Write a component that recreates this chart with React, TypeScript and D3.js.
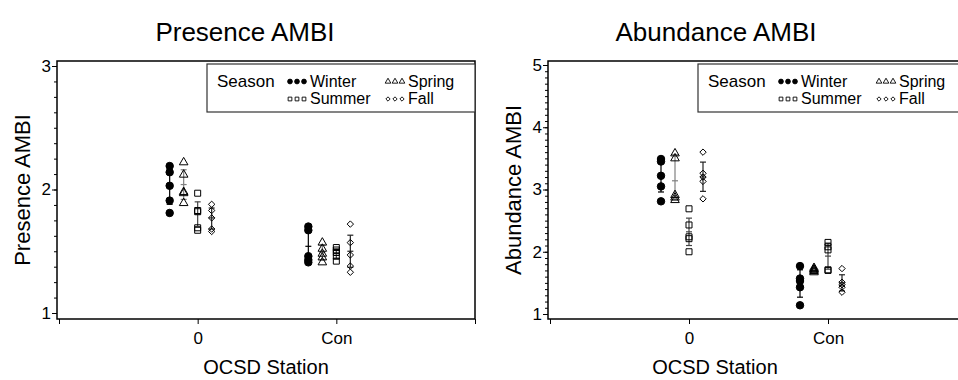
import { useEffect, useRef } from 'react';
import * as d3 from 'd3';

const seasons = ['Winter', 'Spring', 'Summer', 'Fall'];
const stations = ['0', 'Con'];

// Presence AMBI - single samples, station 0
const presence0Winter = [2.19, 2.14, 2.03, 1.91, 1.81];
const presence0Spring = [2.22, 2.12, 1.98, 1.97, 1.89];
const presence0Summer = [1.97, 1.83, 1.82, 1.69, 1.67];
const presence0Fall = [1.88, 1.83, 1.77, 1.68, 1.66];
// Presence AMBI - station Con
const presenceConWinter = [1.7, 1.67, 1.46, 1.43, 1.41];
const presenceConSpring = [1.57, 1.52, 1.48, 1.45, 1.41];
const presenceConSummer = [1.53, 1.51, 1.49, 1.46, 1.42];
const presenceConFall = [1.72, 1.57, 1.47, 1.38, 1.33];
// error bars, order: 0 (W,Sp,Su,F), Con (W,Sp,Su,F)
const presenceMean = [2.02, 2.04, 1.8, 1.77, 1.54, 1.49, 1.48, 1.5];
const presenceLow = [1.88, 1.92, 1.7, 1.68, 1.42, 1.43, 1.44, 1.37];
const presenceHigh = [2.16, 2.16, 1.9, 1.85, 1.67, 1.55, 1.52, 1.63];

// Abundance AMBI - station 0
const abundance0Winter = [3.49, 3.45, 3.22, 3.05, 2.81];
const abundance0Spring = [3.58, 3.5, 2.91, 2.87, 2.83];
const abundance0Summer = [2.69, 2.43, 2.24, 2.21, 2.0];
const abundance0Fall = [3.6, 3.26, 3.2, 3.13, 2.85];
// Abundance AMBI - station Con
const abundanceConWinter = [1.77, 1.57, 1.53, 1.43, 1.14];
const abundanceConSpring = [1.74, 1.72, 1.71, 1.69, 1.67];
const abundanceConSummer = [2.15, 2.08, 2.03, 1.71, 1.7];
const abundanceConFall = [1.73, 1.51, 1.47, 1.43, 1.35];
const abundanceMean = [3.2, 3.14, 2.32, 3.2, 1.49, 1.71, 1.93, 1.5];
const abundanceLow = [2.96, 2.84, 2.1, 2.97, 1.27, 1.68, 1.72, 1.37];
const abundanceHigh = [3.45, 3.56, 2.54, 3.44, 1.71, 1.74, 2.14, 1.63];

const font = '"Liberation Sans", Arial, sans-serif';
const symbols = [d3.symbolCircle, d3.symbolTriangle, d3.symbolSquare, d3.symbolDiamond2];
const symbolSize = [44, 32, 36, 26];
const legendSize = [18, 14, 14, 12];
const barColor = ['#000', '#808080', '#444', '#222'];

function Panel({ layout, title, yLabel, points, mean, low, high, yDomain, yTicks, minorStep }) {
  const ref = useRef(null);

  useEffect(() => {
    const L = layout;
    const g = d3.select(ref.current);
    g.selectAll('*').remove();

    const x = d3.scaleLinear().domain([-1, 2]).range(L.xRange);
    const off = d3.scalePoint().domain(seasons).range([-28, 14]);
    const y = d3.scaleLinear().domain(yDomain).range(L.yRange);

    // frame
    g.append('rect')
      .attr('x', L.x0).attr('y', L.top)
      .attr('width', L.x1 - L.x0).attr('height', L.bottom - L.top)
      .attr('fill', 'none').attr('stroke', '#000').attr('stroke-width', 1.5);

    // y axis, minor then major ticks
    const minor = d3.range(yDomain[0], yDomain[1] + 1e-9, minorStep);
    const yMinor = g.append('g')
      .attr('transform', `translate(${L.x0},0)`)
      .call(d3.axisLeft(y).tickValues(minor).tickSize(3).tickFormat(() => ''));
    yMinor.select('.domain').remove();

    const yAxis = g.append('g')
      .attr('transform', `translate(${L.x0},0)`)
      .call(d3.axisLeft(y).tickValues(yTicks).tickFormat(d3.format('d')).tickSize(5).tickPadding(1));
    yAxis.select('.domain').remove();
    yAxis.attr('font-size', 17).attr('font-family', font);
    yAxis.selectAll('text').attr('fill', '#000');

    // x axis
    const xAxis = g.append('g')
      .attr('transform', `translate(0,${L.bottom})`)
      .call(d3.axisBottom(x).tickValues([-1, 0, 1, 2]).tickFormat(d => stations[d] ?? '').tickSize(5).tickPadding(8));
    xAxis.select('.domain').remove();
    xAxis.attr('font-size', 17).attr('font-family', font);
    xAxis.selectAll('text').attr('fill', '#000');

    // error bars (mean +/- spread) and the samples
    stations.forEach((st, i) => {
      seasons.forEach((se, j) => {
        const k = i * 4 + j;
        const cx = x(i) + off(se);
        const bar = g.append('g').attr('stroke', barColor[j]).attr('stroke-width', 1.2);
        bar.append('line').attr('x1', cx).attr('x2', cx).attr('y1', y(low[k])).attr('y2', y(high[k]));
        [low[k], high[k], mean[k]].forEach(v => {
          bar.append('line').attr('x1', cx - 3).attr('x2', cx + 3).attr('y1', y(v)).attr('y2', y(v));
        });

        g.append('g').selectAll('path')
          .data(points[k])
          .enter().append('path')
          .attr('d', d3.symbol().type(symbols[j]).size(symbolSize[j]))
          .attr('transform', d => `translate(${cx},${y(d)})`)
          .attr('fill', j === 0 ? '#000' : 'none')
          .attr('stroke', '#000')
          .attr('stroke-width', 1);
      });
    });

    // legend
    const lg = g.append('g').attr('font-family', font).attr('font-size', 16);
    lg.append('rect')
      .attr('x', L.legendX).attr('y', 64).attr('width', 268).attr('height', 48)
      .attr('fill', '#fff').attr('stroke', '#333').attr('stroke-width', 1.2);
    lg.append('text').attr('x', L.legendX + 10).attr('y', 86.5).attr('font-size', 17).text('Season');
    seasons.forEach((se, j) => {
      const col = j % 2;
      const row = Math.floor(j / 2);
      const bx = L.legendX + (col === 0 ? 83 : 181);
      const by = row === 0 ? 86.5 : 104;
      [0, 7, 14].forEach(dx => {
        lg.append('path')
          .attr('d', d3.symbol().type(symbols[j]).size(legendSize[j]))
          .attr('transform', `translate(${bx + dx},${by - 5})`)
          .attr('fill', j === 0 ? '#000' : 'none')
          .attr('stroke', '#000').attr('stroke-width', 0.9);
      });
      lg.append('text').attr('x', bx + 20).attr('y', by).text(se);
    });

    // titles
    g.append('text')
      .attr('x', L.titleX).attr('y', 41)
      .attr('text-anchor', 'middle').attr('font-family', font).attr('font-size', 26)
      .text(title);
    g.append('text')
      .attr('transform', `translate(${L.yLabelX},190) rotate(-90)`)
      .attr('text-anchor', 'middle').attr('font-family', font).attr('font-size', 22)
      .text(yLabel);
    g.append('text')
      .attr('x', L.xLabelX).attr('y', 374)
      .attr('text-anchor', 'middle').attr('font-family', font).attr('font-size', 20)
      .text('OCSD Station');
  }, [layout, title, yLabel, points, mean, low, high, yDomain, yTicks, minorStep]);

  return <g ref={ref} />;
}

const leftLayout = {
  x0: 57, x1: 475, top: 61, bottom: 319, xRange: [59, 475], yRange: [313, 66],
  legendX: 207, titleX: 245, yLabelX: 30, xLabelX: 266,
};
const rightLayout = {
  x0: 548, x1: 966, top: 61, bottom: 319, xRange: [550, 967], yRange: [314, 65],
  legendX: 698, titleX: 716, yLabelX: 521, xLabelX: 715,
};

const presencePoints = [
  presence0Winter, presence0Spring, presence0Summer, presence0Fall,
  presenceConWinter, presenceConSpring, presenceConSummer, presenceConFall,
];
const abundancePoints = [
  abundance0Winter, abundance0Spring, abundance0Summer, abundance0Fall,
  abundanceConWinter, abundanceConSpring, abundanceConSummer, abundanceConFall,
];

export default function App() {
  return (
    <svg width={958} height={380} style={{ position: 'absolute', left: 0, top: 0, background: '#fff' }}>
      <Panel
        layout={leftLayout} title="Presence AMBI" yLabel="Presence AMBI"
        points={presencePoints} mean={presenceMean} low={presenceLow} high={presenceHigh}
        yDomain={[1, 3]} yTicks={[1, 2, 3]} minorStep={0.125}
      />
      <Panel
        layout={rightLayout} title="Abundance AMBI" yLabel="Abundance AMBI"
        points={abundancePoints} mean={abundanceMean} low={abundanceLow} high={abundanceHigh}
        yDomain={[1, 5]} yTicks={[1, 2, 3, 4, 5]} minorStep={0.1}
      />
    </svg>
  );
}
